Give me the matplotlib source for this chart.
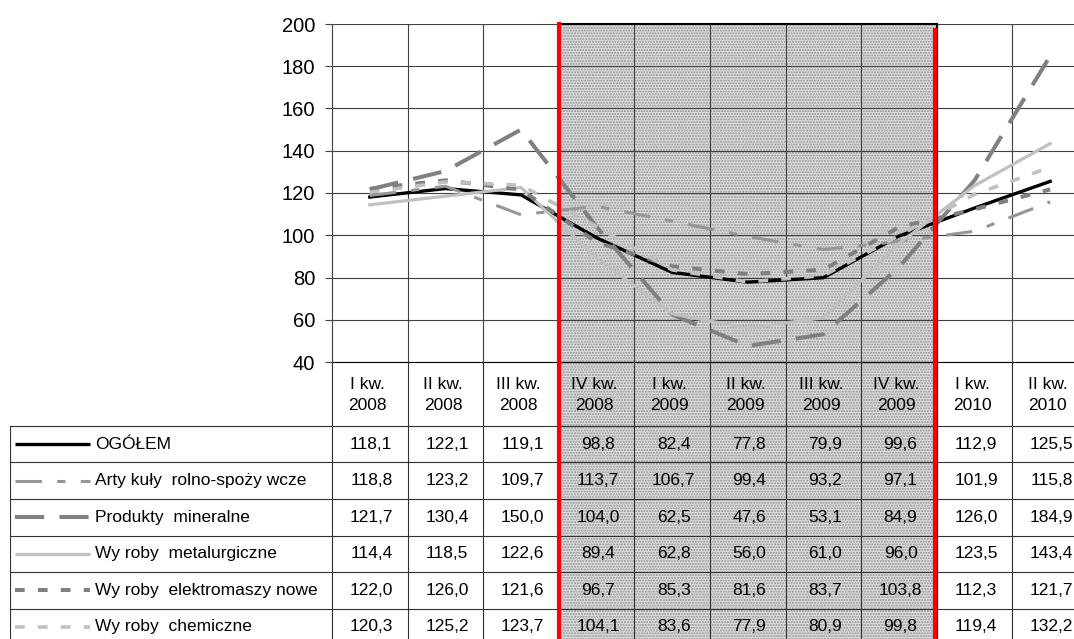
import matplotlib
matplotlib.use('Agg')
import matplotlib.pyplot as plt
from matplotlib.patches import Rectangle
from matplotlib.transforms import blended_transform_factory

plt.rcParams['font.family'] = ['Liberation Sans', 'DejaVu Sans']
plt.rcParams['lines.scale_dashes'] = False

# dane
kwartaly = ['I kw.\n2008', 'II kw.\n2008', 'III kw.\n2008', 'IV kw.\n2008',
            'I kw.\n2009', 'II kw.\n2009', 'III kw.\n2009', 'IV kw.\n2009',
            'I kw.\n2010', 'II kw.\n2010']
nazwy = ['OGÓŁEM', 'Arty kuły  rolno-spoży wcze', 'Produkty  mineralne',
         'Wy roby  metalurgiczne', 'Wy roby  elektromaszy nowe', 'Wy roby  chemiczne']
ogolem = [118.1, 122.1, 119.1, 98.8, 82.4, 77.8, 79.9, 99.6, 112.9, 125.5]
rolno = [118.8, 123.2, 109.7, 113.7, 106.7, 99.4, 93.2, 97.1, 101.9, 115.8]
mineralne = [121.7, 130.4, 150.0, 104.0, 62.5, 47.6, 53.1, 84.9, 126.0, 184.9]
metalurg = [114.4, 118.5, 122.6, 89.4, 62.8, 56.0, 61.0, 96.0, 123.5, 143.4]
elektro = [122.0, 126.0, 121.6, 96.7, 85.3, 81.6, 83.7, 103.8, 112.3, 121.7]
chemiczne = [120.3, 125.2, 123.7, 104.1, 83.6, 77.9, 80.9, 99.8, 119.4, 132.2]
kryzys = (3, 7)  # zaznaczone kwartaly (IV kw. 2008 - IV kw. 2009)

serie = [ogolem, rolno, mineralne, metalurg, elektro, chemiczne]
style = [
    dict(color='black', lw=2.4, ls='-'),
    dict(color='#969696', lw=2.2, ls=(0, (19, 11, 6, 11))),
    dict(color='#808080', lw=2.9, ls=(0, (21, 11))),
    dict(color='#c0c0c0', lw=2.3, ls='-'),
    dict(color='#808080', lw=2.9, ls=(0, (7, 9.5))),
    dict(color='#c0c0c0', lw=2.6, ls=(0, (7, 9.5))),
]

W, H = 1074, 639
fig = plt.figure(figsize=(W / 100, H / 100), dpi=100)


def box(x0, y0, x1, y1):
    return [x0 / W, 1 - y1 / H, (x1 - x0) / W, (y1 - y0) / H]


cw = 75.6
ax = fig.add_axes(box(332, 24, 332 + 10 * cw, 362))
ax.patch.set_visible(False)
n = len(kwartaly)
x = list(range(n))
for ys, st in zip(serie, style):
    ax.plot(x, ys, color=st['color'], lw=st['lw'], ls=st['ls'],
            solid_joinstyle='round', zorder=3)
ax.set_xlim(-0.5, n - 0.5)
ax.set_ylim(40, 200)
ax.set_yticks(range(40, 201, 20))
ax.set_xticks([i + 0.5 for i in range(n - 1)])
ax.tick_params(axis='x', length=0, labelbottom=False)
ax.tick_params(axis='y', length=5, width=0.8, color='#404040', labelsize=14.5, pad=7)
ax.grid(True, color='#404040', lw=0.8)
for s in ['top', 'right']:
    ax.spines[s].set_visible(False)
ax.spines['left'].set_color('#404040')
ax.spines['bottom'].set_color('black')

# tabela danych
hh = 64 / 36.5
lw_col = 322 / cw
tab = fig.add_axes(box(10, 362, 332 + 10 * cw, 362 + 64 + 6 * 36.5))
tab.patch.set_visible(False)
tab.set_xlim(-0.5 - lw_col, n - 0.5)
tab.set_ylim(hh + 6, 0)
tab.axis('off')
for i in range(n + 1):
    tab.plot([i - 0.5, i - 0.5], [0, hh + 6], color='#303030', lw=0.8)
tab.plot([-0.5 - lw_col] * 2, [hh, hh + 6], color='#303030', lw=0.8)
for r in range(7):
    tab.plot([-0.5 - lw_col, n - 0.5], [hh + r] * 2, color='#303030', lw=0.8)
for i, k in enumerate(kwartaly):
    tab.text(i - 0.03, hh / 2 + 0.02, k, ha='center', va='center', fontsize=12.5,
             linespacing=1.5)
for r, (ys, nm, st) in enumerate(zip(serie, nazwy, style)):
    yc = hh + r + 0.5
    for i, v in enumerate(ys):
        tab.text(i + 0.02, yc, f'{v:.1f}'.replace('.', ','), ha='center', va='center',
                 fontsize=12.5)
    x0 = -0.5 - lw_col
    tab.plot([x0 + 5 / cw, x0 + 80 / cw], [yc, yc], color=st['color'], lw=st['lw'],
             ls=st['ls'], solid_capstyle='butt')
    tab.text(x0 + 85 / cw, yc, nm, ha='left', va='center', fontsize=12.5)

# okres kryzysu - zacienione tlo i czerwone linie
tr = blended_transform_factory(ax.transData, fig.transFigure)
top = 1 - 24 / H
shade = Rectangle((kryzys[0] - 0.5, -0.2), kryzys[1] - kryzys[0] + 1, top + 0.2,
                  transform=tr, facecolor='#dedede', edgecolor='#909090', hatch='......',
                  lw=0, zorder=-2)
fig.add_artist(shade)
ramka = Rectangle((kryzys[0] - 0.5, -0.2), kryzys[1] - kryzys[0] + 1, top + 0.2,
                  transform=tr, fill=False, edgecolor='black', lw=1.5, zorder=4)
fig.add_artist(ramka)
for xr in [kryzys[0] - 0.5, kryzys[1] + 0.5 - 0.03]:
    fig.add_artist(plt.Line2D([xr, xr], [-0.1, top - (0 if xr < 5 else 6 / H)],
                              transform=tr, color='#ff0000', lw=3, zorder=5))

fig.savefig('out.png', dpi=100)
